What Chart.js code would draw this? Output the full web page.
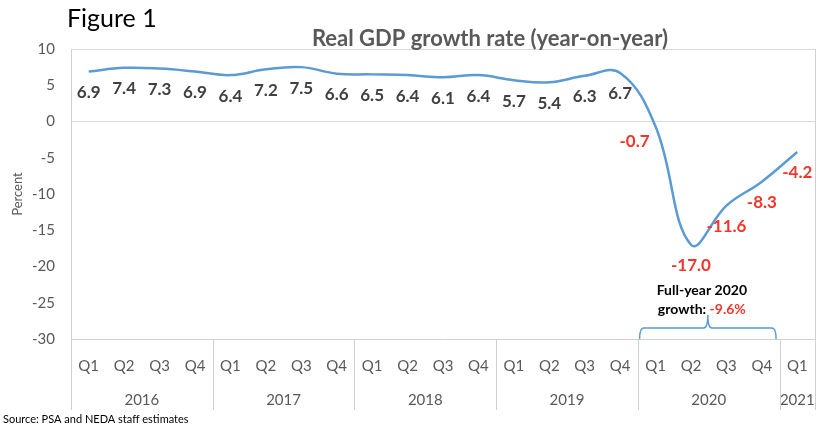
<!DOCTYPE html>
<html>
<head>
<meta charset="utf-8">
<script src="https://cdn.jsdelivr.net/npm/chart.js@4.4.1/dist/chart.umd.min.js"></script>
<style>
  html, body { margin: 0; padding: 0; background: #fff; }
</style>
</head>
<body>
<canvas id="gdpChart" width="826" height="425"></canvas>
<script>
/* --------------- Data --------------------- */

const quarters = [
  "Q1", "Q2", "Q3", "Q4",
  "Q1", "Q2", "Q3", "Q4",
  "Q1", "Q2", "Q3", "Q4",
  "Q1", "Q2", "Q3", "Q4",
  "Q1", "Q2", "Q3", "Q4",
  "Q1",
];
const years = ["2016", "2017", "2018", "2019", "2020", "2021"];
const quartersPerYear = [4, 4, 4, 4, 4, 1];
const growth = [
  6.9, 7.4, 7.3, 6.9,
  6.4, 7.2, 7.5, 6.6,
  6.5, 6.4, 6.1, 6.4,
  5.7, 5.4, 6.3, 6.7,
  -0.7, -17.0, -11.6, -8.3,
  -4.2,
];
const yTickValues = [-30, -25, -20, -15, -10, -5, 0, 5, 10];
const fullYear2020 = -9.6;

/* --------------- Styles --------------------- */

const FONT = "Lato, 'Open Sans', sans-serif";
const GREY = "#595959";
const LINE_GREY = "#d0d0d0";
const RED = "#f2362b";
const BLUE = "#5b9bd5";

// year starts (index of first quarter) and centres
const yearStarts = [];
const yearCentres = [];
let acc = 0;
quartersPerYear.forEach((n) => {
  yearStarts.push(acc);
  yearCentres.push(acc + (n - 1) / 2);
  acc += n;
});

// nudges for labels that would sit on the line
const labelNudge = { 16: [-21, -6] };

/* --------------- Extra drawing --------------------- */

const decorations = {
  id: "decorations",
  afterDraw(chart) {
    const { ctx, chartArea } = chart;
    const x2 = chart.scales.x2;
    ctx.save();

    // year separators + right border
    ctx.strokeStyle = LINE_GREY;
    ctx.lineWidth = 1;
    const bounds = yearStarts.map((s) => s - 0.5).concat([quarters.length - 0.5]);
    bounds.forEach((b, i) => {
      const px = Math.round(x2.getPixelForValue(b)) + 0.5;
      ctx.beginPath();
      ctx.moveTo(px, i === bounds.length - 1 ? chartArea.top : chartArea.bottom);
      ctx.lineTo(px, 410);
      ctx.stroke();
    });

    // data labels
    const meta = chart.getDatasetMeta(0);
    ctx.font = "bold 17px " + FONT;
    ctx.textAlign = "center";
    ctx.textBaseline = "middle";
    meta.data.forEach((pt, i) => {
      const v = growth[i];
      const n = labelNudge[i] || [0, 0];
      ctx.fillStyle = v < 0 ? RED : "#404040";
      ctx.fillText(v.toFixed(1), pt.x + n[0], pt.y + 21 + n[1]);
    });

    // titles
    ctx.textAlign = "left";
    ctx.textBaseline = "alphabetic";
    ctx.fillStyle = "#000";
    ctx.font = "25px " + FONT;
    ctx.fillText("Figure 1", 67, 27);
    ctx.fillStyle = GREY;
    ctx.font = "bold 22px " + FONT;
    ctx.textAlign = "center";
    ctx.fillText("Real GDP growth rate (year-on-year)", 490, 46);

    // source
    ctx.textAlign = "left";
    ctx.fillStyle = "#000";
    ctx.font = "11px " + FONT;
    ctx.fillText("Source: PSA and NEDA staff estimates", 3, 423);

    // bracket for 2020
    const L = x2.getPixelForValue(15.55);
    const R = x2.getPixelForValue(19.4);
    const M = (L + R) / 2;
    const B = chartArea.bottom;
    const h = B - 11;
    const peak = B - 24;
    ctx.strokeStyle = BLUE;
    ctx.lineWidth = 1.5;
    ctx.beginPath();
    ctx.moveTo(L, B);
    ctx.quadraticCurveTo(L, h, L + 4, h);
    ctx.lineTo(M - 4, h);
    ctx.quadraticCurveTo(M, h, M, peak);
    ctx.quadraticCurveTo(M, h, M + 4, h);
    ctx.lineTo(R - 4, h);
    ctx.quadraticCurveTo(R, h, R, B);
    ctx.stroke();

    // annotation
    ctx.font = "bold 14px " + FONT;
    ctx.textAlign = "center";
    ctx.fillStyle = "#000";
    ctx.fillText("Full-year 2020", M - 6, B - 44);
    const a = "growth: ";
    const b = fullYear2020.toFixed(1) + "%";
    const wa = ctx.measureText(a).width;
    const wb = ctx.measureText(b).width;
    const start = M - 6 - (wa + wb) / 2;
    ctx.textAlign = "left";
    ctx.fillText(a, start, B - 25);
    ctx.fillStyle = RED;
    ctx.fillText(b, start + wa, B - 25);

    ctx.restore();
  },
};

/* --------------- Chart --------------------- */

const gdpChart = new Chart(document.getElementById("gdpChart"), {
  type: "line",
  data: {
    labels: quarters,
    datasets: [
      {
        data: growth,
        borderColor: BLUE,
        borderWidth: 2.5,
        pointRadius: 0,
        tension: 0.4,
        fill: false,
      },
    ],
  },
  plugins: [decorations],
  options: {
    responsive: false,
    animation: false,
    layout: { padding: { top: 49, right: 11, bottom: 15, left: 0 } },
    plugins: {
      legend: { display: false },
      tooltip: { enabled: false },
    },
    scales: {
      x: {
        type: "category",
        position: "bottom",
        weight: 0,
        offset: true,
        grid: { display: false },
        border: { display: true, color: LINE_GREY },
        ticks: {
          color: GREY,
          font: { family: FONT, size: 15 },
          padding: 10,
          maxRotation: 0,
          autoSkip: false,
        },
        afterFit: (s) => { s.height = 40; },
      },
      x2: {
        type: "linear",
        position: "bottom",
        weight: 1,
        min: -0.5,
        max: quarters.length - 0.5,
        grid: { display: false },
        border: { display: false },
        afterBuildTicks: (s) => { s.ticks = yearCentres.map((v) => ({ value: v })); },
        ticks: {
          color: GREY,
          font: { family: FONT, size: 15 },
          padding: 4,
          maxRotation: 0,
          autoSkip: false,
          callback: (v) => years[yearCentres.indexOf(v)],
        },
        afterFit: (s) => { s.height = 31; },
      },
      y: {
        min: -30,
        max: 10,
        afterBuildTicks: (s) => { s.ticks = yTickValues.map((v) => ({ value: v })); },
        grid: {
          drawTicks: false,
          color: (c) => (c.tick && (c.tick.value === 0 || c.tick.value === 10) ? "#d9d9d9" : "rgba(0,0,0,0)"),
        },
        border: { display: true, color: LINE_GREY },
        ticks: {
          color: GREY,
          font: { family: FONT, size: 15 },
          padding: 16,
        },
        title: {
          display: true,
          text: "Percent",
          color: GREY,
          font: { family: FONT, size: 13 },
          padding: { top: 10, bottom: 0 },
        },
        afterFit: (s) => { s.width = 71; },
      },
    },
  },
});
</script>
</body>
</html>
